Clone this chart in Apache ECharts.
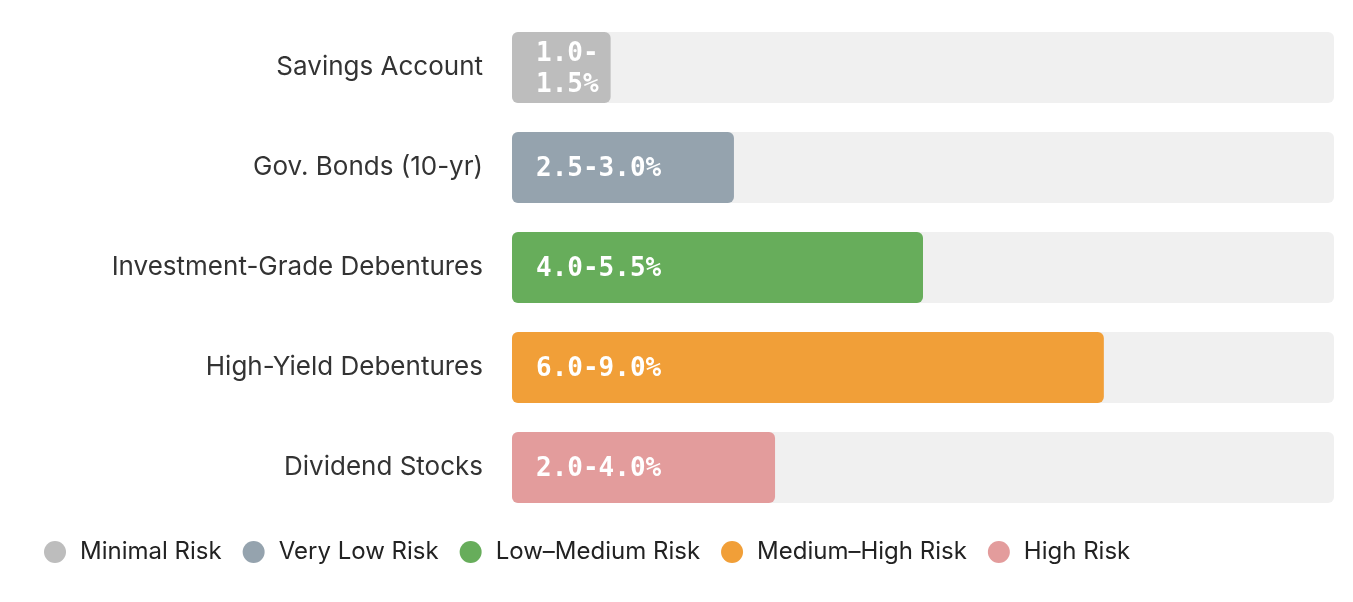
<!DOCTYPE html>
<html>
<head>
<meta charset="utf-8">
<script src="https://cdn.jsdelivr.net/npm/echarts@6/dist/echarts.min.js"></script>
<style>
  html, body { margin: 0; padding: 0; background: #fff; }
  #chart { width: 1353px; height: 602px; }
</style>
</head>
<body>
<div id="chart"></div>
<script>
var categories = ['Savings Account', 'Gov. Bonds (10-yr)', 'Investment-Grade Debentures', 'High-Yield Debentures', 'Dividend Stocks'];
var barValues = [1.2, 2.7, 5.0, 7.2, 3.2];
var rangeLabels = ['1.0-1.5%', '2.5-3.0%', '4.0-5.5%', '6.0-9.0%', '2.0-4.0%'];
var riskNames = ['Minimal Risk', 'Very Low Risk', 'Low\u2013Medium Risk', 'Medium\u2013High Risk', 'High Risk'];
var riskColors = ['#bdbdbd', '#95a3ae', '#67ad5b', '#f19f38', '#e39c9c'];
var axisMax = 10;

var myChart = echarts.init(document.getElementById('chart'));

function buildSeries(labelWidths) {
  var series = [{
    name: 'bg',
    type: 'bar',
    silent: true,
    barWidth: 71,
    barGap: '-100%',
    itemStyle: {color: '#f0f0f0', borderRadius: 6},
    data: categories.map(function () { return axisMax; }),
    z: 1
  }];
  for (var i = 0; i < riskNames.length; i++) {
    var data = categories.map(function (c, j) {
      if (j !== i) return '-';
      return {
        value: barValues[j],
        label: {width: labelWidths ? labelWidths[j] : 300}
      };
    });
    series.push({
      name: riskNames[i],
      type: 'bar',
      stack: 'risk',
      barWidth: 71,
      barGap: '-100%',
      itemStyle: {color: riskColors[i], borderRadius: 6},
      label: {
        show: true,
        position: 'insideLeft',
        distance: 24,
        offset: [0, 2],
        color: '#fff',
        fontFamily: 'DejaVu Sans Mono',
        fontWeight: 'bold',
        fontSize: 26,
        lineHeight: 31,
        overflow: 'breakAll',
        formatter: function (p) { return rangeLabels[p.dataIndex]; }
      },
      data: data,
      z: 2
    });
  }
  return series;
}

var option = {
  animation: false,
  legend: {
    data: riskNames,
    left: 44,
    top: 540,
    icon: 'circle',
    itemWidth: 40,
    itemHeight: 22,
    itemGap: 21,
    padding: 0,
    textStyle: {color: '#222', fontSize: 24, fontFamily: 'Inter'}
  },
  grid: {left: 512, right: 19, top: 17.5, bottom: 84.5},
  xAxis: {
    type: 'value',
    min: 0,
    max: axisMax,
    show: false
  },
  yAxis: {
    type: 'category',
    inverse: true,
    data: categories,
    axisLine: {show: false},
    axisTick: {show: false},
    axisLabel: {
      color: '#333',
      fontSize: 26,
      fontFamily: 'Inter',
      padding: [4, 0, 0, 0],
      margin: 29
    }
  },
  series: buildSeries(null)
};

myChart.setOption(option);

// wrap the label inside its bar when the bar is too short
var widths = categories.map(function (c, j) {
  var x0 = myChart.convertToPixel({gridIndex: 0}, [0, j])[0];
  var x1 = myChart.convertToPixel({gridIndex: 0}, [barValues[j], j])[0];
  return Math.max(20, x1 - x0 - 28);
});
myChart.setOption({series: buildSeries(widths)});
</script>
</body>
</html>
